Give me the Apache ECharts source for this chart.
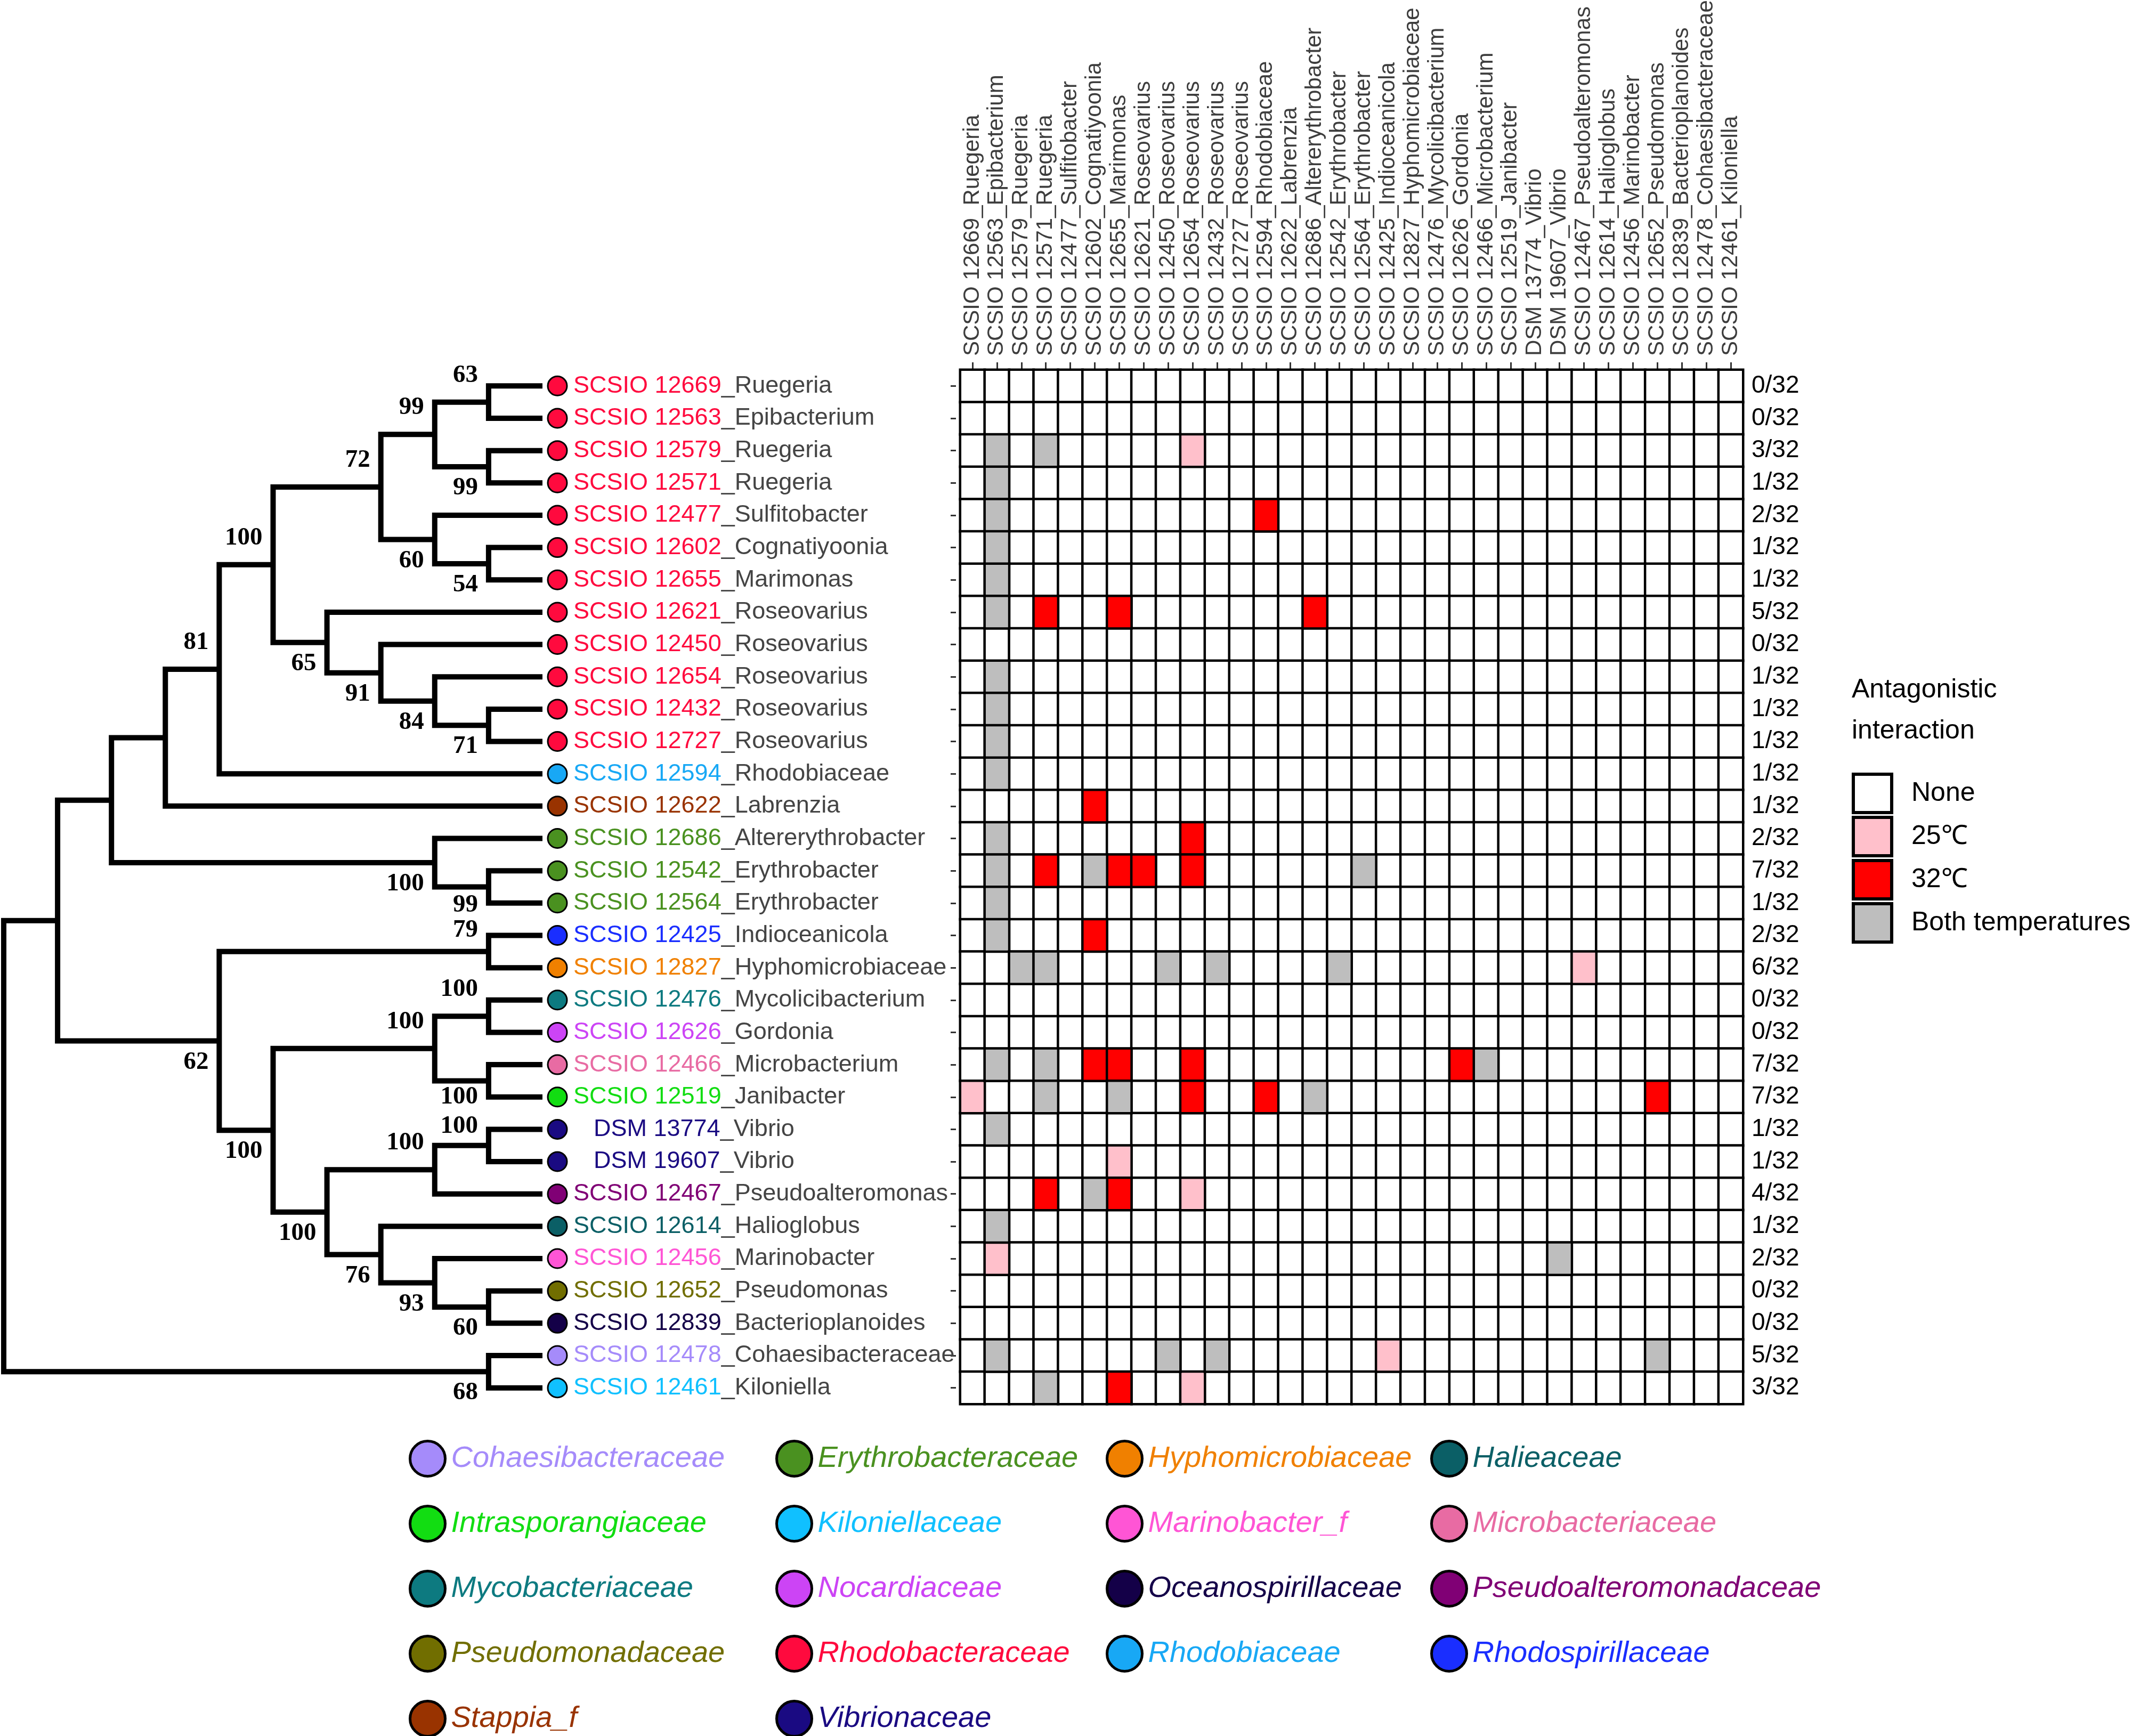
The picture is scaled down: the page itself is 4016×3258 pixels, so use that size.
<!DOCTYPE html>
<html><head><meta charset="utf-8">
<script src="https://cdn.jsdelivr.net/npm/echarts@6.0.0/dist/echarts.min.js"></script>
<style>html,body{margin:0;padding:0;background:#fff}#c{width:4016px;height:3258px}</style>
</head><body><div id="c"></div>
<script>
// ---------------- data ----------------
const strainIds = ['SCSIO 12669','SCSIO 12563','SCSIO 12579','SCSIO 12571','SCSIO 12477','SCSIO 12602','SCSIO 12655','SCSIO 12621','SCSIO 12450','SCSIO 12654','SCSIO 12432','SCSIO 12727','SCSIO 12594','SCSIO 12622','SCSIO 12686','SCSIO 12542','SCSIO 12564','SCSIO 12425','SCSIO 12827','SCSIO 12476','SCSIO 12626','SCSIO 12466','SCSIO 12519','DSM 13774','DSM 19607','SCSIO 12467','SCSIO 12614','SCSIO 12456','SCSIO 12652','SCSIO 12839','SCSIO 12478','SCSIO 12461'];
const genera = ['Ruegeria','Epibacterium','Ruegeria','Ruegeria','Sulfitobacter','Cognatiyoonia','Marimonas','Roseovarius','Roseovarius','Roseovarius','Roseovarius','Roseovarius','Rhodobiaceae','Labrenzia','Altererythrobacter','Erythrobacter','Erythrobacter','Indioceanicola','Hyphomicrobiaceae','Mycolicibacterium','Gordonia','Microbacterium','Janibacter','Vibrio','Vibrio','Pseudoalteromonas','Halioglobus','Marinobacter','Pseudomonas','Bacterioplanoides','Cohaesibacteraceae','Kiloniella'];
const strainFamily = ['Rhodobacteraceae','Rhodobacteraceae','Rhodobacteraceae','Rhodobacteraceae','Rhodobacteraceae','Rhodobacteraceae','Rhodobacteraceae','Rhodobacteraceae','Rhodobacteraceae','Rhodobacteraceae','Rhodobacteraceae','Rhodobacteraceae','Rhodobiaceae','Stappia_f','Erythrobacteraceae','Erythrobacteraceae','Erythrobacteraceae','Rhodospirillaceae','Hyphomicrobiaceae','Mycobacteriaceae','Nocardiaceae','Microbacteriaceae','Intrasporangiaceae','Vibrionaceae','Vibrionaceae','Pseudoalteromonadaceae','Halieaceae','Marinobacter_f','Pseudomonadaceae','Oceanospirillaceae','Cohaesibacteraceae','Kiloniellaceae'];
const ratios = ['0/32','0/32','3/32','1/32','2/32','1/32','1/32','5/32','0/32','1/32','1/32','1/32','1/32','1/32','2/32','7/32','1/32','2/32','6/32','0/32','0/32','7/32','7/32','1/32','1/32','4/32','1/32','2/32','0/32','0/32','5/32','3/32'];

const familyNames = ['Cohaesibacteraceae','Erythrobacteraceae','Hyphomicrobiaceae','Halieaceae','Intrasporangiaceae','Kiloniellaceae','Marinobacter_f','Microbacteriaceae','Mycobacteriaceae','Nocardiaceae','Oceanospirillaceae','Pseudoalteromonadaceae','Pseudomonadaceae','Rhodobacteraceae','Rhodobiaceae','Rhodospirillaceae','Stappia_f','Vibrionaceae'];
const familyColors = ['#A58BFA','#4A9120','#F08000','#0B5F66','#12DD12','#10C0FF','#FF55D5','#E86BA3','#0D7A80','#CC44F5','#140048','#800075','#716E00','#FF0A3E','#18A8F5','#1A2EFF','#993300','#1A0A82'];

// interaction hits: [row, column]
const hits25 = [[2,9],[18,25],[22,0],[24,6],[25,9],[27,1],[30,17],[31,9]];
const hits32 = [[4,12],[7,3],[7,6],[7,14],[13,5],[14,9],[15,3],[15,6],[15,7],[15,9],[17,5],[21,5],[21,6],[21,9],[21,20],[22,9],[22,12],[22,28],[25,3],[25,6],[31,6]];
const hitsBoth = [[2,1],[2,3],[3,1],[4,1],[5,1],[6,1],[7,1],[9,1],[10,1],[11,1],[12,1],[14,1],[15,1],[15,5],[15,16],[16,1],[17,1],[18,2],[18,3],[18,8],[18,10],[18,15],[21,1],[21,3],[21,21],[22,3],[22,6],[22,14],[23,1],[25,5],[26,1],[27,24],[30,1],[30,8],[30,10],[30,28],[31,3]];
const interactionNames = ['None','25℃','32℃','Both temperatures'];
const interactionColors = ['#FFFFFF','#FFC0CB','#FF0000','#BEBEBE'];

// phylogenetic tree (cladogram depth levels; tips at level 10)
const tipDepth = 10;
const nodeIds = ['root','a','b','c','n81','n100a','n72','n99a','n63','n99b','n60a','n54','n65','n91','n84','n71','nEry','n99c','n62','n79','n100d','n100e','n100f','n100g','n100h','n100i','n100j','n76','n93','n60b','n68'];
const nodeDepth = [0,1,2,3,4,5,7,8,9,9,8,9,6,7,8,9,8,9,4,9,5,8,9,9,6,8,9,7,8,9,9];
const nodeKids = [['a','n68'],['b','n62'],['c','nEry'],['n81',13],['n100a',12],['n72','n65'],['n99a','n60a'],['n63','n99b'],[0,1],[2,3],[4,'n54'],[5,6],[7,'n91'],[8,'n84'],[9,'n71'],[10,11],[14,'n99c'],[15,16],['n79','n100d'],[17,18],['n100e','n100h'],['n100f','n100g'],[19,20],[21,22],['n100i','n76'],['n100j',25],[23,24],[26,'n93'],[27,'n60b'],[28,29],[30,31]];
const nodeSupport = [0,0,0,0,81,100,72,99,63,99,60,54,65,91,84,71,100,99,62,79,100,100,100,100,100,100,100,76,93,60,68];
const nodeSide = [0,0,0,0,-1,-1,-1,-1,-1,1,1,1,1,1,1,1,1,1,1,-1,1,-1,-1,1,1,-1,-1,1,1,1,1];

// ---------------- style / layout ----------------
const SANS = '"Liberation Sans", Arial, Helvetica, sans-serif';
const SERIF = '"Liberation Serif", "Times New Roman", serif';
const LABEL_UP = -50, LABEL_DOWN = 40;
const labelNudge = { n99c: -6, n79: 10, n100g: -10, n100j: 14 };

const nRows = strainIds.length;
const labels = strainIds.map((s, i) => s + '_' + genera[i]);

function kidDepth(k) { return typeof k === 'number' ? tipDepth : nodeDepth[nodeIds.indexOf(k)]; }
const yCache = {};
function kidY(k) {
  if (typeof k === 'number') return k;
  if (yCache[k] !== undefined) return yCache[k];
  const kids = nodeKids[nodeIds.indexOf(k)];
  const v = (kidY(kids[0]) + kidY(kids[1])) / 2;
  yCache[k] = v; return v;
}
const treeData = nodeIds.map((id, i) => {
  const k = nodeKids[i];
  return [nodeDepth[i], kidY(id), kidDepth(k[0]), kidY(k[0]), kidDepth(k[1]), kidY(k[1]), nodeSupport[i], nodeSide[i], i];
});

// heatmap cells
const codeOf = {};
hits25.forEach(h => codeOf[h[0] + '_' + h[1]] = 1);
hits32.forEach(h => codeOf[h[0] + '_' + h[1]] = 2);
hitsBoth.forEach(h => codeOf[h[0] + '_' + h[1]] = 3);
const cellsByCode = [[], [], [], []];
for (let r = 0; r < nRows; r++) for (let c = 0; c < nRows; c++) {
  const code = codeOf[r + '_' + c] || 0;
  cellsByCode[code].push([c, r, code]);
}

const rich = { g: { color: '#444', fontSize: 45, fontFamily: SANS }, sp: { width: 38 } };
familyNames.forEach((f, k) => { rich['f' + k] = { color: familyColors[k], fontSize: 45, fontFamily: SANS }; });

const GRID_TOP = 694, GRID_H = 1941;
const grids = [
  { left: 7, top: GRID_TOP, width: 1011, height: GRID_H, outerBoundsMode: 'none' },
  { left: 1028, top: GRID_TOP, width: 36, height: GRID_H, outerBoundsMode: 'none' },
  { left: 1802, top: GRID_TOP, width: 1469, height: GRID_H, outerBoundsMode: 'none' }
];

const series = [];
series.push({
  type: 'custom', xAxisIndex: 0, yAxisIndex: 0, clip: false, silent: true,
  data: treeData,
  renderItem: function (params, api) {
    const p = api.coord([api.value(0), api.value(1)]);
    const a = api.coord([api.value(2), api.value(3)]);
    const b = api.coord([api.value(4), api.value(5)]);
    const children = [{
      type: 'polyline',
      shape: { points: [[a[0], a[1]], [p[0], a[1]], [p[0], b[1]], [b[0], b[1]]] },
      style: { stroke: '#000', lineWidth: 10, fill: 'none', lineJoin: 'miter', lineCap: 'butt' }
    }];
    const s = api.value(6);
    if (s) {
      const side = api.value(7);
      const id = nodeIds[api.value(8)];
      const dy = (side < 0 ? LABEL_UP : LABEL_DOWN) + (labelNudge[id] || 0);
      children.push({ type: 'text', style: {
        text: String(s), x: p[0] - 20, y: p[1] + dy,
        align: 'right', verticalAlign: 'middle', fontSize: 47, fontWeight: 'bold', fontFamily: SERIF, fill: '#000'
      }});
    }
    return { type: 'group', children };
  }
});
familyNames.forEach((f, k) => {
  const rows = [];
  strainFamily.forEach((sf, i) => { if (sf === f) rows.push([0, i]); });
  series.push({
    type: 'scatter', name: f, xAxisIndex: 1, yAxisIndex: 1, silent: true,
    symbol: 'circle', symbolSize: 36, data: rows,
    itemStyle: { color: familyColors[k], borderColor: '#000', borderWidth: 3, opacity: 1 },
    emphasis: { disabled: true }
  });
});
interactionNames.forEach((n, code) => {
  series.push({
    type: 'heatmap', name: n, xAxisIndex: 2, yAxisIndex: 2, silent: true,
    data: cellsByCode[code],
    itemStyle: { color: interactionColors[code], borderColor: '#000', borderWidth: 4.5 },
    emphasis: { disabled: true }, progressive: 0
  });
});

const legends = [{
  data: interactionNames, orient: 'vertical', left: 3475, top: 1450, padding: 0,
  icon: 'rect', itemWidth: 72, itemHeight: 72, itemGap: 3, selectedMode: false,
  itemStyle: { borderColor: '#000', borderWidth: 6 },
  textStyle: { fontSize: 50, color: '#000', fontFamily: SANS, padding: [0, 0, 0, 32] }
}];
const colCenters = [800, 1488, 2108, 2717];
colCenters.forEach((cx, j) => {
  const items = [];
  for (let k = j; k < familyNames.length; k += 4) {
    items.push({ name: familyNames[k], textStyle: { color: familyColors[k] } });
  }
  legends.push({
    data: items, orient: 'vertical', left: cx - 33, top: 2702, height: 700, padding: 0,
    icon: 'circle', itemWidth: 66, itemHeight: 66, itemGap: 51, selectedMode: false,
    itemStyle: { borderColor: '#000', borderWidth: 5 },
    textStyle: { fontSize: 56, fontStyle: 'italic', fontFamily: SANS, padding: [0, 0, 0, 6] }
  });
});

const option = {
  animation: false,
  backgroundColor: '#fff',
  title: { text: 'Antagonistic\ninteraction', left: 3475, top: 1257, padding: 0,
    textStyle: { fontSize: 50, fontWeight: 'normal', color: '#000', lineHeight: 77, fontFamily: SANS } },
  grid: grids,
  xAxis: [
    { gridIndex: 0, type: 'value', min: 0, max: tipDepth, show: false },
    { gridIndex: 1, type: 'category', data: [''], show: false },
    { gridIndex: 2, type: 'category', data: labels, position: 'top',
      axisLine: { show: false }, splitLine: { show: false },
      axisTick: { show: true, alignWithLabel: true, length: 14, lineStyle: { color: '#333', width: 3 } },
      axisLabel: { interval: 0, rotate: -90, margin: 26, fontSize: 42, color: '#3d3d3d', fontFamily: SANS } }
  ],
  yAxis: [
    { gridIndex: 0, type: 'value', min: -0.5, max: nRows - 0.5, inverse: true, show: false },
    { gridIndex: 1, type: 'category', data: labels, inverse: true, position: 'right',
      axisLine: { show: false }, axisTick: { show: false }, splitLine: { show: false },
      axisLabel: { interval: 0, margin: 12, fontSize: 45, fontFamily: SANS, rich: rich,
        formatter: function (v, i) {
          const k = familyNames.indexOf(strainFamily[i]);
          const pre = strainIds[i].indexOf('DSM') === 0 ? '{sp|}' : '';
          return pre + '{f' + k + '|' + strainIds[i] + '}{g|_' + genera[i] + '}';
        } } },
    { gridIndex: 2, type: 'category', data: labels, inverse: true, position: 'left', offset: 8,
      axisLine: { show: false }, splitLine: { show: false },
      axisTick: { show: true, alignWithLabel: true, length: 10, lineStyle: { color: '#333', width: 3 } },
      axisLabel: { show: false } },
    { gridIndex: 2, type: 'category', data: labels, inverse: true, position: 'right',
      axisLine: { show: false }, axisTick: { show: false }, splitLine: { show: false },
      axisLabel: { interval: 0, margin: 16, fontSize: 46, color: '#000', fontFamily: SANS,
        formatter: function (v, i) { return ratios[i]; } } }
  ],
  legend: legends,
  series: series
};

const chart = echarts.init(document.getElementById('c'), null, { renderer: 'canvas' });
chart.setOption(option);
</script>
</body></html>
